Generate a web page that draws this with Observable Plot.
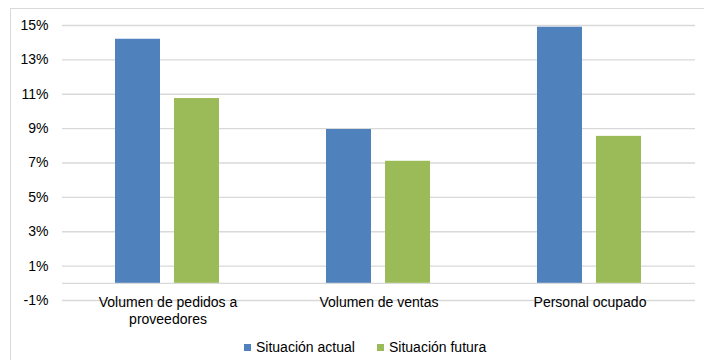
<!DOCTYPE html>
<html>
<head>
<meta charset="utf-8">
<script src="https://cdn.jsdelivr.net/npm/d3@7"></script>
<script src="https://cdn.jsdelivr.net/npm/@observablehq/plot@0.6"></script>
<style>
  html, body { margin: 0; padding: 0; background: #fff; }
  #wrap { position: relative; width: 704px; height: 360px; overflow: hidden; font-family: "Liberation Sans", Arial, sans-serif; }
  #frame { position: absolute; left: 10px; top: 8px; width: 700px; height: 360px; border-left: 1px solid #d9d9d9; border-top: 1px solid #d9d9d9; }
  #chart { position: absolute; left: 0; top: 0; }
  #legend { position: absolute; top: 338px; left: 0; width: 704px; height: 18px; font-size: 14px; color: #000; }
  .item { position: absolute; top: 0; line-height: 18px; white-space: nowrap; }
  .sw { display: inline-block; width: 7px; height: 7px; margin-right: 5px; vertical-align: 1px; }
</style>
</head>
<body>
<div id="wrap">
  <div id="frame"></div>
  <div id="chart"></div>
  <div id="legend"></div>
</div>
<script>
const categories = ["Volumen de pedidos a proveedores", "Volumen de ventas", "Personal ocupado"];
const categoryLabels = ["Volumen de pedidos a\nproveedores", "Volumen de ventas", "Personal ocupado"];
const series = ["Situación actual", "Situación futura"];
const actual = [14.2, 8.95, 14.9];
const futura = [10.75, 7.1, 8.55];
const yTicks = [-1, 1, 3, 5, 7, 9, 11, 13, 15];
const colors = ["#4f81bd", "#9bbb59"];

const data = [];
categories.forEach((c, i) => {
  data.push({cat: c, serie: series[0], value: actual[i]});
  data.push({cat: c, serie: series[1], value: futura[i]});
});
const labelData = categories.map((c, i) => ({cat: c, label: categoryLabels[i]}));

const chart = Plot.plot({
  width: 704,
  height: 330,
  marginLeft: 62,
  marginRight: 9,
  marginTop: 25,
  marginBottom: 30,
  style: {fontFamily: "Liberation Sans, Arial, sans-serif", fontSize: "14px", background: "transparent", color: "#000"},
  fx: {domain: categories, padding: 0, axis: null},
  x: {domain: series, paddingInner: 0.2333, paddingOuter: 0.875, axis: null},
  y: {domain: [-1, 15]},
  color: {domain: series, range: colors},
  marks: [
    Plot.ruleY(yTicks, {stroke: "#d9d9d9", strokeWidth: 1.3}),
    Plot.ruleY([0], {stroke: "#d9d9d9", strokeWidth: 1.3}),
    Plot.barY(data, {fx: "cat", x: "serie", y: "value", fill: "serie", inset: 0}),
    Plot.axisY({ticks: yTicks, tickFormat: d => d + "%", tickSize: 0, tickPadding: 14, fontSize: 14, label: null}),
    Plot.text(labelData, {fx: "cat", y: -1, text: "label", lineAnchor: "top", dy: -5, lineHeight: 1.2, fill: "#000", fontSize: 14})
  ]
});
document.getElementById("chart").appendChild(chart);

const legend = document.getElementById("legend");
const pos = [244, 377];
series.forEach((s, i) => {
  const it = document.createElement("div");
  it.className = "item";
  it.style.left = pos[i] + "px";
  const sw = document.createElement("span");
  sw.className = "sw";
  sw.style.background = colors[i];
  it.appendChild(sw);
  it.appendChild(document.createTextNode(s));
  legend.appendChild(it);
});
</script>
</body>
</html>
